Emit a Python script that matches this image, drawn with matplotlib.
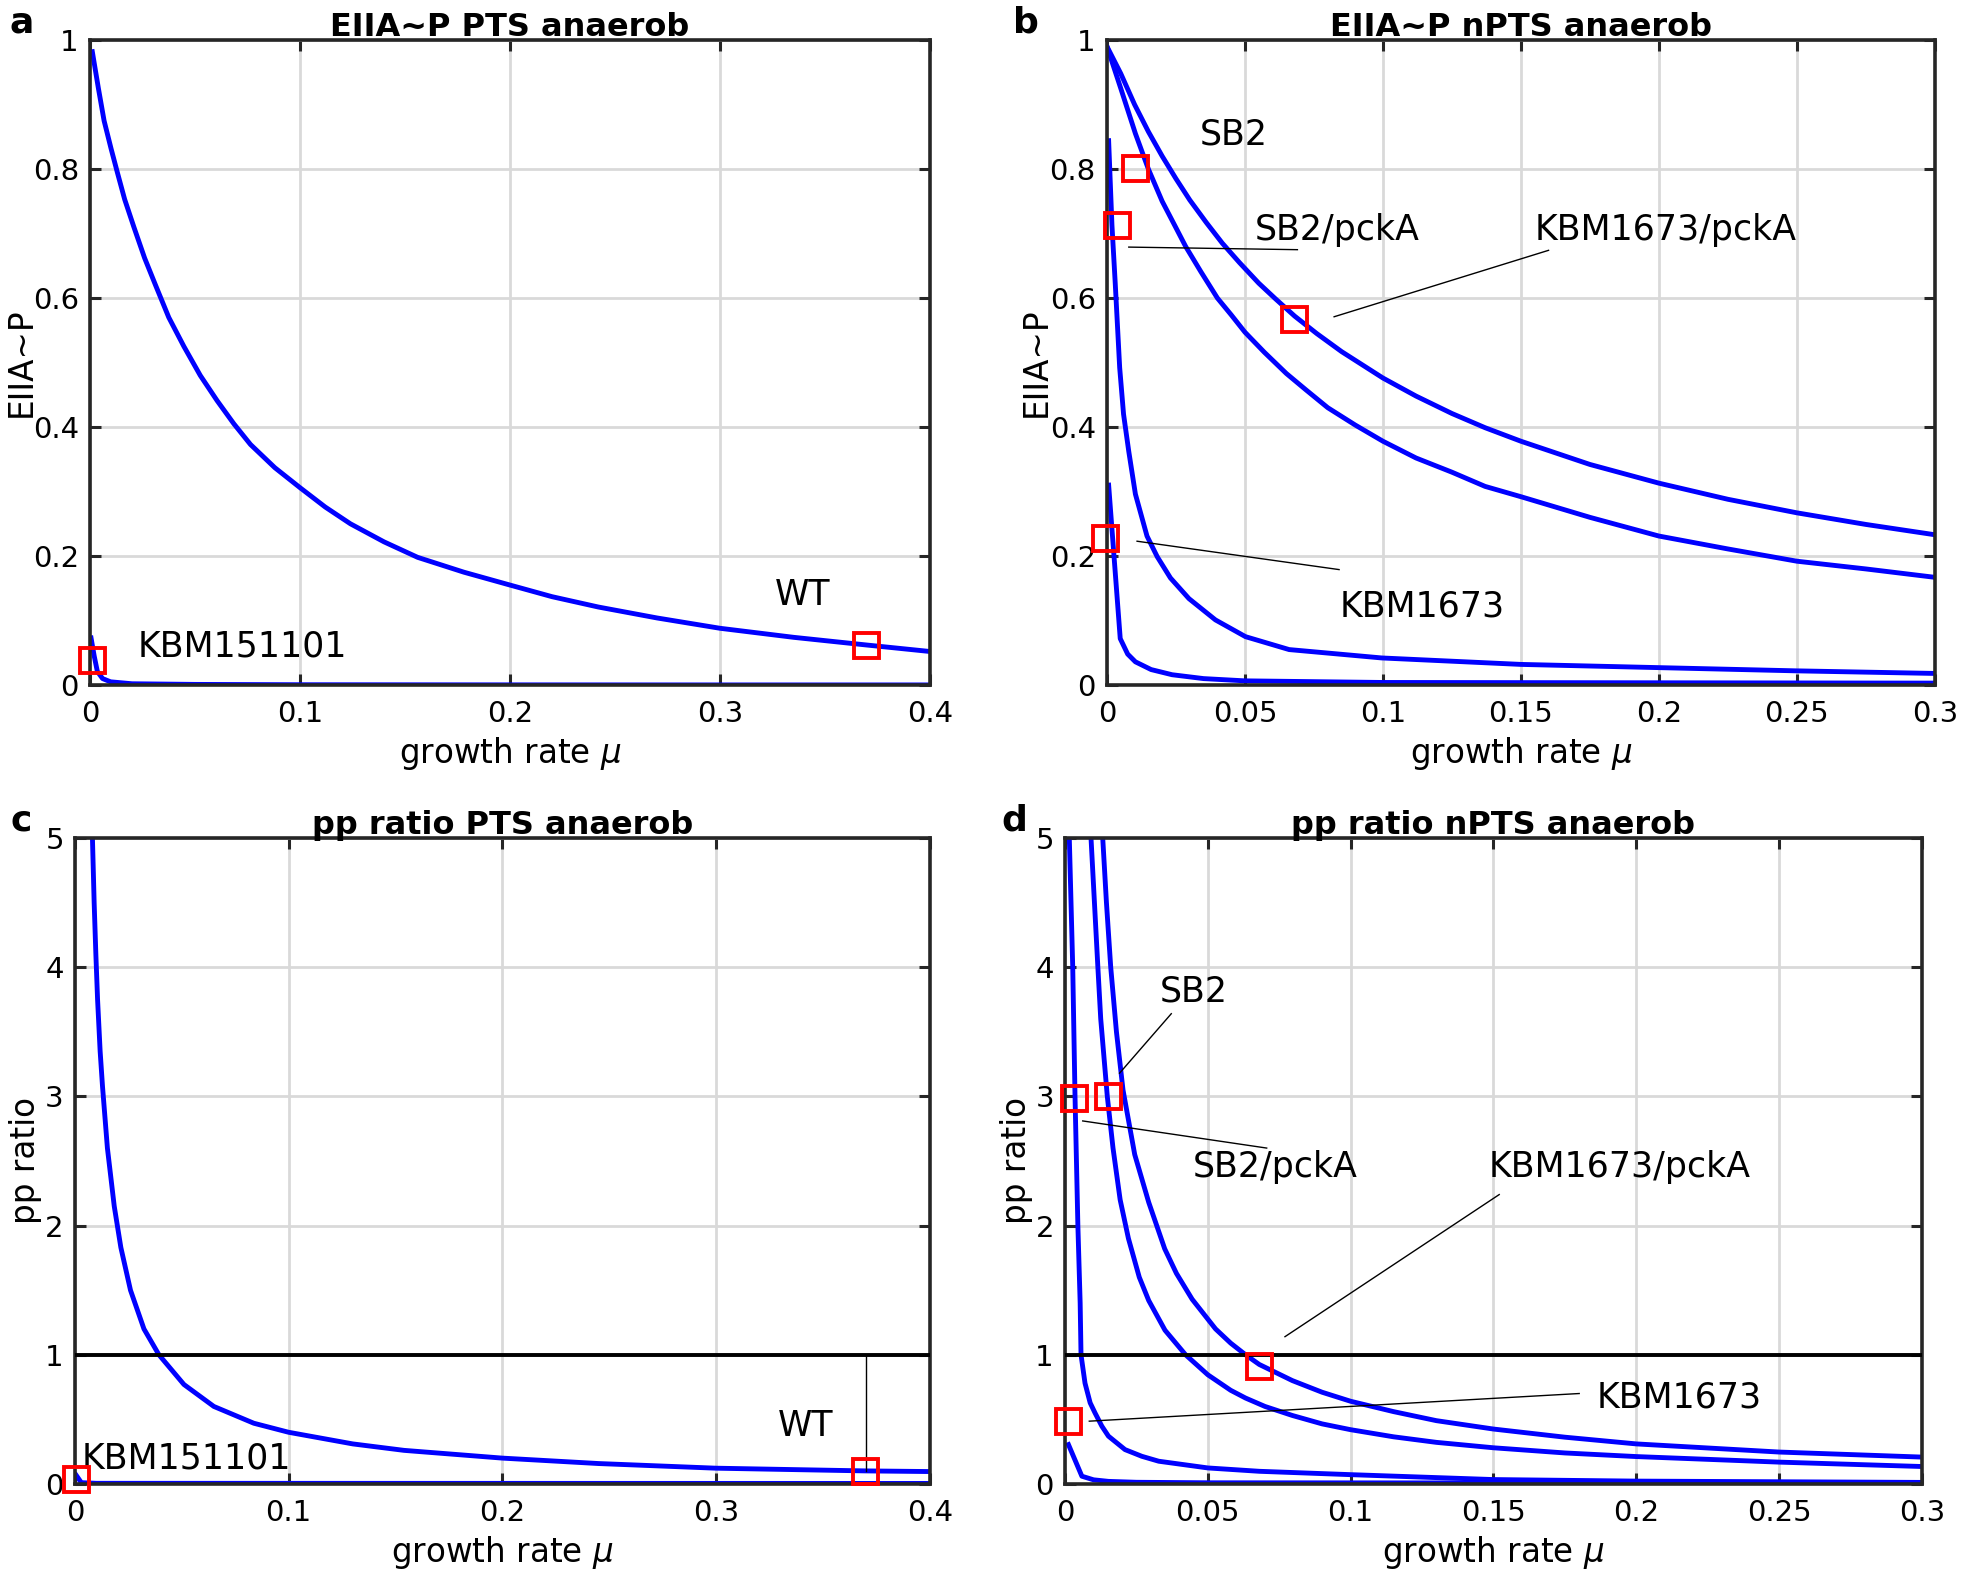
#!/usr/bin/env python3
"""EIIA~P and pp ratio versus growth rate, PTS / nPTS anaerob (4 panels)."""
from __future__ import annotations

import matplotlib

matplotlib.use("Agg")

import matplotlib.pyplot as plt

plt.rcParams["font.family"] = ["DejaVu Sans"]
plt.rcParams["mathtext.fontset"] = "dejavusans"

# ---- panel a: EIIA~P, PTS ----
a_wt_x = [0.0011, 0.004, 0.0067, 0.01, 0.013, 0.0165, 0.0209, 0.026, 0.0312,
          0.0375, 0.0447, 0.0525, 0.0605, 0.0685, 0.0764, 0.088, 0.1, 0.112,
          0.124, 0.14, 0.156, 0.178, 0.2, 0.22, 0.242, 0.27, 0.3, 0.335, 0.37,
          0.4]
a_wt_y = [0.982, 0.925, 0.875, 0.832, 0.795, 0.753, 0.71, 0.662, 0.62, 0.57,
          0.525, 0.48, 0.441, 0.405, 0.373, 0.337, 0.306, 0.276, 0.25, 0.222,
          0.198, 0.175, 0.155, 0.137, 0.121, 0.104, 0.088, 0.074, 0.062, 0.052]
a_kbm_x = [0.0005, 0.002, 0.0035, 0.006, 0.0098, 0.02, 0.05, 0.1, 0.2, 0.3, 0.4]
a_kbm_y = [0.073, 0.045, 0.021, 0.010, 0.005, 0.002, 0.001, 0.0005, 0.0003,
           0.0002, 0.0002]
a_box_x = [0.3697, 0.001]
a_box_y = [0.062, 0.039]

# ---- panel b: EIIA~P, nPTS ----
b_kpck_x = [0.0, 0.005, 0.01, 0.015, 0.02, 0.025, 0.03, 0.036, 0.0418, 0.048,
            0.055, 0.061, 0.068, 0.076, 0.085, 0.1, 0.112, 0.125, 0.137, 0.15,
            0.175, 0.2, 0.225, 0.25, 0.275, 0.3]
b_kpck_y = [0.99, 0.948, 0.90, 0.858, 0.82, 0.785, 0.752, 0.717, 0.685, 0.655,
            0.623, 0.599, 0.572, 0.545, 0.517, 0.476, 0.448, 0.421, 0.399, 0.378,
            0.342, 0.313, 0.288, 0.267, 0.249, 0.233]
b_sb2_x = [0.0, 0.005, 0.0103, 0.015, 0.02, 0.0245, 0.0285, 0.034, 0.04, 0.045,
           0.05, 0.057, 0.065, 0.072, 0.08, 0.09, 0.1, 0.112, 0.125, 0.137, 0.15,
           0.175, 0.2, 0.225, 0.25, 0.275, 0.3]
b_sb2_y = [0.99, 0.925, 0.855, 0.80, 0.75, 0.713, 0.68, 0.641, 0.60, 0.574,
           0.547, 0.516, 0.483, 0.458, 0.43, 0.403, 0.378, 0.352, 0.33, 0.308,
           0.292, 0.26, 0.231, 0.211, 0.192, 0.18, 0.167]
b_sbpck_x = [0.0006, 0.0018, 0.003, 0.0046, 0.006, 0.0079, 0.0103, 0.0145,
             0.0182, 0.023, 0.0297, 0.0393, 0.0502, 0.066, 0.0996, 0.15, 0.2,
             0.25, 0.3]
b_sbpck_y = [0.844, 0.713, 0.622, 0.492, 0.42, 0.362, 0.296, 0.231, 0.199, 0.166,
             0.134, 0.101, 0.075, 0.055, 0.042, 0.032, 0.027, 0.022, 0.018]
b_kbm_x = [0.0006, 0.0048, 0.0075, 0.0103, 0.016, 0.0236, 0.035, 0.05, 0.1, 0.3]
b_kbm_y = [0.31, 0.072, 0.048, 0.036, 0.024, 0.016, 0.010, 0.0065, 0.004, 0.003]
b_box_x = [0.0103, 0.0036, 0.0678, -0.0006]
b_box_y = [0.801, 0.713, 0.567, 0.228]

# ---- panel c: pp ratio, PTS ----
c_wt_x = [0.0082, 0.009, 0.0098, 0.0106, 0.0118, 0.0129, 0.0152, 0.0184, 0.0215,
          0.026, 0.0323, 0.0393, 0.051, 0.065, 0.0837, 0.1, 0.13, 0.154, 0.2,
          0.245, 0.3, 0.37, 0.4]
c_wt_y = [5.0, 4.5, 4.1, 3.75, 3.35, 3.08, 2.6, 2.15, 1.83, 1.5, 1.2, 1.0, 0.77,
          0.6, 0.47, 0.40, 0.31, 0.26, 0.2, 0.158, 0.122, 0.101, 0.096]
c_kbm_x = [0.0005, 0.003, 0.01, 0.4]
c_kbm_y = [0.07, 0.01, 0.005, 0.004]
c_box_x = [0.3695, 0.0005]
c_box_y = [0.098, 0.04]

# ---- panel d: pp ratio, nPTS ----
d_a_x = [0.0015, 0.0027, 0.0035, 0.0045, 0.0053, 0.0056, 0.007, 0.0088, 0.0105,
         0.0129, 0.0152, 0.021, 0.0269, 0.0328, 0.05, 0.068, 0.1, 0.15, 0.2, 0.3]
d_a_y = [5.0, 4.0, 3.0, 2.0, 1.4, 1.0, 0.78, 0.628, 0.55, 0.447, 0.37, 0.266,
         0.214, 0.176, 0.124, 0.098, 0.072, 0.034, 0.022, 0.012]
d_b_x = [0.0091, 0.0115, 0.0125, 0.0148, 0.0168, 0.0193, 0.0222, 0.026, 0.0293,
         0.035, 0.0422, 0.05, 0.058, 0.0632, 0.07, 0.0796, 0.09, 0.1, 0.115, 0.13,
         0.15, 0.175, 0.2, 0.25, 0.3]
d_b_y = [5.0, 4.0, 3.6, 3.0, 2.6, 2.2, 1.9, 1.6, 1.42, 1.19, 1.0, 0.845, 0.725,
         0.665, 0.6, 0.53, 0.465, 0.42, 0.365, 0.322, 0.28, 0.24, 0.212, 0.169,
         0.135]
d_c_x = [0.0132, 0.0145, 0.016, 0.018, 0.0203, 0.0244, 0.0293, 0.0349, 0.039,
         0.0445, 0.0527, 0.058, 0.0632, 0.068, 0.0796, 0.09, 0.1, 0.115, 0.13,
         0.15, 0.175, 0.2, 0.25, 0.3]
d_c_y = [5.0, 4.5, 4.0, 3.5, 3.05, 2.55, 2.18, 1.82, 1.63, 1.43, 1.20, 1.09, 1.0,
         0.925, 0.80, 0.71, 0.64, 0.56, 0.49, 0.425, 0.362, 0.31, 0.247, 0.208]
d_d_x = [0.0012, 0.0059, 0.01, 0.0152, 0.025, 0.05, 0.3]
d_d_y = [0.305, 0.06, 0.032, 0.02, 0.013, 0.009, 0.006]
d_box_x = [0.0033, 0.015, 0.068, 0.0012]
d_box_y = [2.99, 3.0, 0.91, 0.49]

# tick labels
x_ticks_wide = [0, 0.1, 0.2, 0.3, 0.4]
x_labels_wide = ["0", "0.1", "0.2", "0.3", "0.4"]
x_ticks_narrow = [0, 0.05, 0.1, 0.15, 0.2, 0.25, 0.3]
x_labels_narrow = ["0", "0.05", "0.1", "0.15", "0.2", "0.25", "0.3"]
y_ticks_frac = [0, 0.2, 0.4, 0.6, 0.8, 1]
y_labels_frac = ["0", "0.2", "0.4", "0.6", "0.8", "1"]
y_ticks_pp = [0, 1, 2, 3, 4, 5]
y_labels_pp = ["0", "1", "2", "3", "4", "5"]

BLUE = "#0000ff"
RED = "#ff0000"
SPINE = "#262626"
GRID = "#d9d9d9"
LW = 3.5
FS_TICK = 21
FS_LABEL = 23.5
FS_NOTE = 25
FS_TITLE = 23


def style_axes(ax, xticks, xlabels, yticks, ylabels, xlim, ylim, title, ylabel,
               ylabelpad=2):
    ax.set_xlim(*xlim)
    ax.set_ylim(*ylim)
    ax.set_xticks(xticks)
    ax.set_xticklabels(xlabels)
    ax.set_yticks(yticks)
    ax.set_yticklabels(ylabels)
    ax.tick_params(direction="in", top=True, right=True, length=8, width=2.2,
                   labelsize=FS_TICK, color=SPINE)
    ax.tick_params(axis="x", pad=11)
    ax.tick_params(axis="y", pad=8)
    ax.grid(True, color=GRID, linewidth=2.0)
    ax.set_axisbelow(True)
    for sp in ax.spines.values():
        sp.set_linewidth(2.6)
        sp.set_color(SPINE)
    ax.set_title(title, fontsize=FS_TITLE, fontweight="bold", pad=3)
    ax.set_xlabel(r"growth rate $\mu$", fontsize=FS_LABEL, labelpad=5)
    ax.set_ylabel(ylabel, fontsize=FS_LABEL, labelpad=ylabelpad)


def curve(ax, x, y):
    ax.plot(x, y, color=BLUE, linewidth=LW, solid_joinstyle="round")


def boxes(ax, x, y):
    ax.plot(x, y, linestyle="none", marker="s", markersize=18,
            markerfacecolor="none", markeredgecolor=RED, markeredgewidth=2.8,
            clip_on=False, zorder=5)


def leader(ax, x0, y0, x1, y1):
    ax.plot([x0, x1], [y0, y1], color="black", linewidth=1.0, zorder=4)


def note(ax, x, y, s, ha="center"):
    ax.text(x, y, s, fontsize=FS_NOTE, ha=ha, va="center")


def main() -> None:
    fig = plt.figure(figsize=(19.61, 15.77), dpi=100)
    ax_a = fig.add_axes([0.0459, 0.5656, 0.4284, 0.409])
    ax_b = fig.add_axes([0.5645, 0.5656, 0.4222, 0.409])
    ax_c = fig.add_axes([0.0382, 0.0590, 0.4360, 0.4096])
    ax_d = fig.add_axes([0.5431, 0.0590, 0.4370, 0.4096])

    # a
    curve(ax_a, a_wt_x, a_wt_y)
    curve(ax_a, a_kbm_x, a_kbm_y)
    boxes(ax_a, a_box_x, a_box_y)
    note(ax_a, 0.3395, 0.139, "WT")
    note(ax_a, 0.0724, 0.06, "KBM151101")
    style_axes(ax_a, x_ticks_wide, x_labels_wide, y_ticks_frac, y_labels_frac,
               (0, 0.4), (0, 1), "EIIA~P PTS anaerob", "EIIA~P", ylabelpad=-4)

    # b
    curve(ax_b, b_kpck_x, b_kpck_y)
    curve(ax_b, b_sb2_x, b_sb2_y)
    curve(ax_b, b_sbpck_x, b_sbpck_y)
    curve(ax_b, b_kbm_x, b_kbm_y)
    boxes(ax_b, b_box_x, b_box_y)
    leader(ax_b, 0.0079, 0.679, 0.069, 0.675)
    leader(ax_b, 0.0823, 0.571, 0.160, 0.674)
    leader(ax_b, 0.0109, 0.223, 0.0841, 0.179)
    note(ax_b, 0.0459, 0.853, "SB2")
    note(ax_b, 0.0835, 0.706, "SB2/pckA")
    note(ax_b, 0.2026, 0.706, "KBM1673/pckA")
    note(ax_b, 0.1143, 0.122, "KBM1673")
    style_axes(ax_b, x_ticks_narrow, x_labels_narrow, y_ticks_frac, y_labels_frac,
               (0, 0.3), (0, 1), "EIIA~P nPTS anaerob", "EIIA~P", ylabelpad=-2)

    # c
    ax_c.axhline(1, color="black", linewidth=2.8, zorder=3)
    curve(ax_c, c_wt_x, c_wt_y)
    curve(ax_c, c_kbm_x, c_kbm_y)
    boxes(ax_c, c_box_x, c_box_y)
    leader(ax_c, 0.37, 0.99, 0.37, 0.10)
    note(ax_c, 0.342, 0.45, "WT")
    note(ax_c, 0.003, 0.2, "KBM151101", ha="left")
    style_axes(ax_c, x_ticks_wide, x_labels_wide, y_ticks_pp, y_labels_pp,
               (0, 0.4), (0, 5), "pp ratio PTS anaerob", "pp ratio")

    # d
    ax_d.axhline(1, color="black", linewidth=2.8, zorder=3)
    curve(ax_d, d_a_x, d_a_y)
    curve(ax_d, d_b_x, d_b_y)
    curve(ax_d, d_c_x, d_c_y)
    curve(ax_d, d_d_x, d_d_y)
    boxes(ax_d, d_box_x, d_box_y)
    leader(ax_d, 0.0372, 3.64, 0.0191, 3.18)
    leader(ax_d, 0.0062, 2.81, 0.0706, 2.60)
    leader(ax_d, 0.077, 1.14, 0.152, 2.24)
    leader(ax_d, 0.0085, 0.486, 0.18, 0.70)
    note(ax_d, 0.045, 3.81, "SB2")
    note(ax_d, 0.0735, 2.45, "SB2/pckA")
    note(ax_d, 0.194, 2.45, "KBM1673/pckA")
    note(ax_d, 0.215, 0.67, "KBM1673")
    style_axes(ax_d, x_ticks_narrow, x_labels_narrow, y_ticks_pp, y_labels_pp,
               (0, 0.3), (0, 5), "pp ratio nPTS anaerob", "pp ratio")

    # panel letters
    for s, x, y in [("a", 0.011, 0.986), ("b", 0.523, 0.986),
                    ("c", 0.011, 0.480), ("d", 0.517, 0.480)]:
        fig.text(x, y, s, fontsize=26, fontweight="bold", ha="center", va="center")

    fig.savefig("out.png", dpi=100, facecolor="white")
    plt.close(fig)


if __name__ == "__main__":
    main()
